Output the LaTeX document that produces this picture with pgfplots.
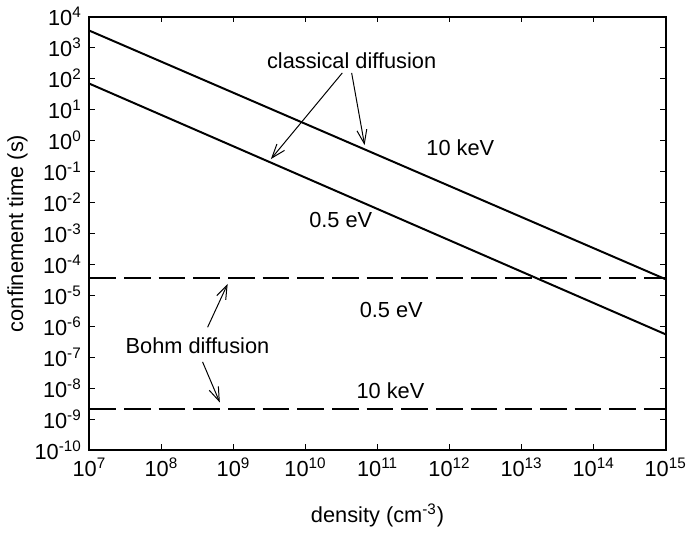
\documentclass[border=0pt]{standalone}
\usepackage{fontspec}
\setmainfont{Liberation Sans}
\usepackage{pgfplots}
\pgfplotsset{compat=1.18}
\usetikzlibrary{arrows.meta}
\begin{document}
\fontsize{11}{13}\selectfont
\begin{tikzpicture}[
  lbl/.style={font=\fontsize{11}{13}\selectfont},
  arr/.style={line width=0.5pt,-{Straight Barb[length=7pt,width=5pt]}}]
\begin{axis}[
  xmode=log, ymode=log,
  width=291pt, height=219pt, scale only axis,
  xmin=1e7, xmax=1e15, ymin=1e-10, ymax=1e4,
  xtick={1e7,1e8,1e9,1e10,1e11,1e12,1e13,1e14,1e15},
  ytick={1e-10,1e-9,1e-8,1e-7,1e-6,1e-5,1e-4,1e-3,1e-2,1e-1,1,1e1,1e2,1e3,1e4},
  xminorticks=false, yminorticks=false,
  xticklabel={\pgfmathparse{int(round(\tick/2.302585093))}10\textsuperscript{\pgfmathresult}},
  yticklabel={\pgfmathparse{int(round(\tick/2.302585093))}10\textsuperscript{\pgfmathresult}},
  tick label style={font=\fontsize{11}{13}\selectfont},
  tick style={black, line width=0.6pt},
  major tick length=3pt,
  axis line style={line width=1pt},
  xlabel={density (cm\textsuperscript{-3})},
  ylabel={confinement time (s)},
  xlabel style={at={(axis description cs:0.5,-0.15)}, anchor=center},
  ylabel style={at={(axis description cs:-0.125,0.5)}, anchor=center},
  clip=false,
]
% classical diffusion, 10 keV
\addplot[black, line width=1pt] coordinates {(1e7,3.5e3) (1e15,3.3e-5)};
% classical diffusion, 0.5 eV
\addplot[black, line width=1pt] coordinates {(1e7,6.8e1) (1e15,5.5e-7)};
% Bohm diffusion, 0.5 eV
\addplot[black, line width=1pt, dash pattern=on 13.5pt off 4pt] coordinates {(1e7,3.6e-5) (1e15,3.6e-5)};
% Bohm diffusion, 10 keV
\addplot[black, line width=1pt, dash pattern=on 13.5pt off 4pt] coordinates {(1e7,2.1e-9) (1e15,2.1e-9)};

\node[lbl] at (axis cs:4.37e10,363) {classical diffusion};
\draw[arr] (axis cs:3.24e10,151) -- (axis cs:3.31e9,0.251);
\draw[arr] (axis cs:4.37e10,151) -- (axis cs:6.61e10,0.708);
\node[lbl] at (axis cs:1.41e12,0.603) {10 keV};
\node[lbl] at (axis cs:3.09e10,2.63e-3) {0.5 eV};
\node[lbl] at (axis cs:1.55e11,3.47e-6) {0.5 eV};
\node[lbl] at (axis cs:1.51e11,8.3e-9) {10 keV};
\node[lbl] at (axis cs:3.16e8,2.45e-7) {Bohm diffusion};
\draw[arr] (axis cs:4.37e8,9.3e-7) -- (axis cs:8.3e8,2.34e-5);
\draw[arr] (axis cs:3.72e8,7.1e-8) -- (axis cs:6.46e8,3.47e-9);
\end{axis}
\end{tikzpicture}
\end{document}
